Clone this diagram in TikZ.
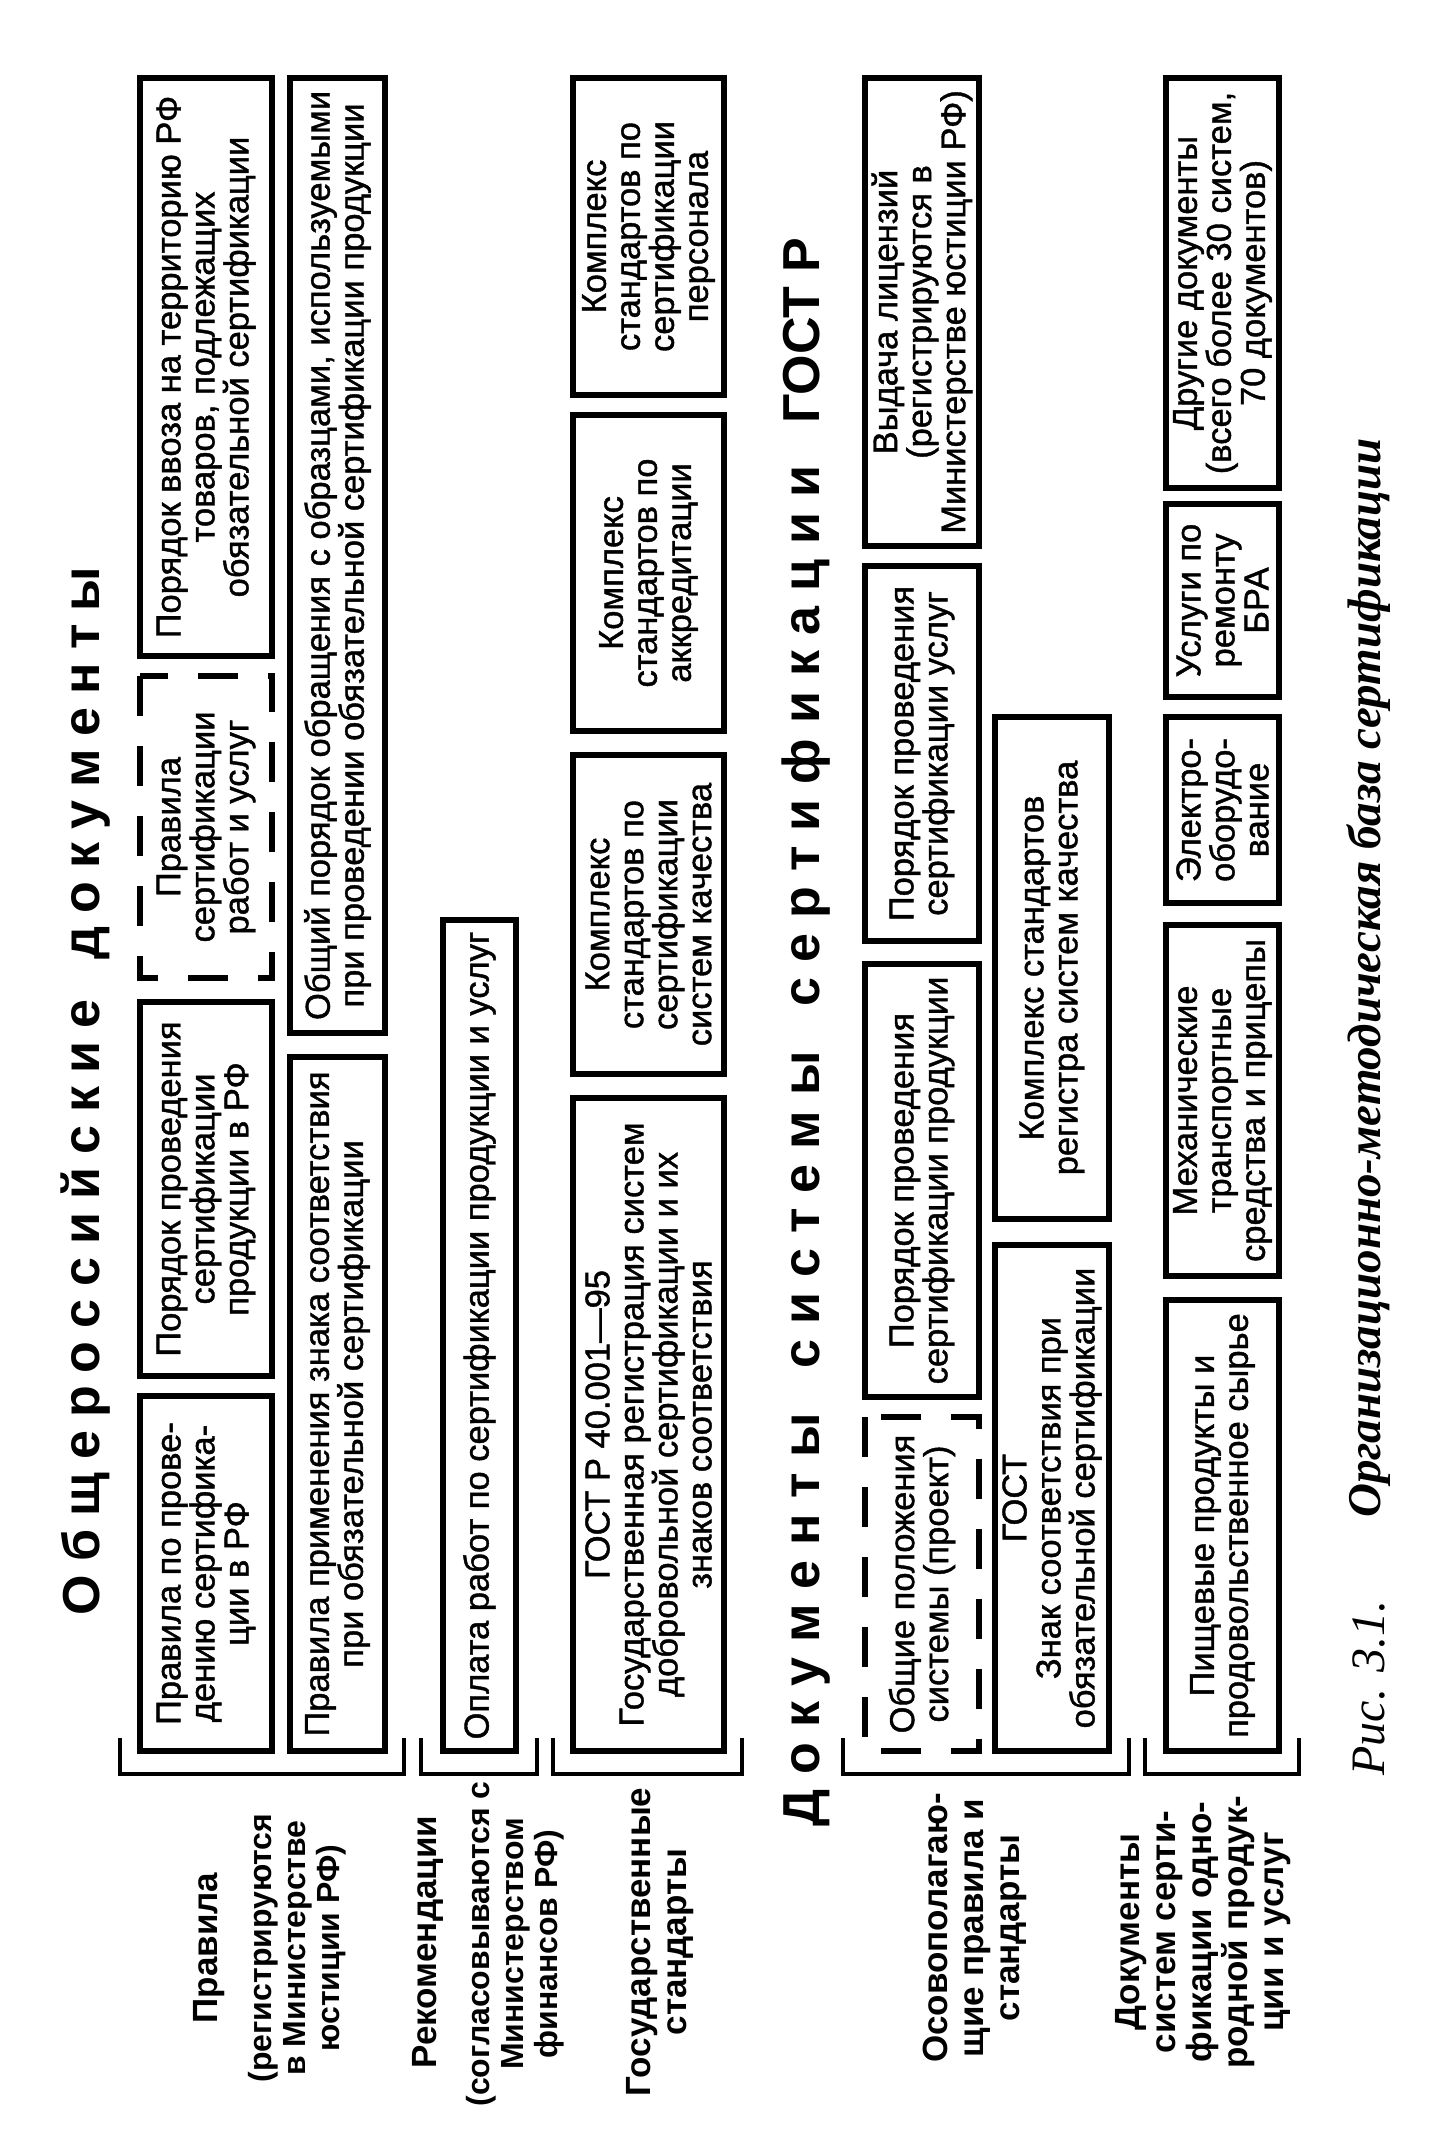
\documentclass[tikz,border=0pt]{standalone}
\usepackage{fontspec}
\setmainfont{Liberation Sans}
\newfontfamily\boxfont[FakeBold=1.2]{Liberation Sans}
\newfontfamily\serif{Liberation Serif}
\def\lsp{0.4em}
\def\spaced#1{\spacedA#1\relax}
\def\spacedA#1{\ifx#1\relax\unkern\else#1\kern\lsp\expandafter\spacedA\fi}
\newcommand\bx[7][box]{\node[#1, minimum width={#6-#5-6}, minimum height={#4-#3-6}] (#2) at ({(#3+#4)/2},{(#5+#6)/2}) {#7};}
\tikzset{
  box/.style={draw, line width=6pt, rotate=90, inner sep=0pt, align=center, font=\boxfont\fontsize{34.5}{34}\selectfont},
  dbox/.style={box, dash pattern=on 40pt off 30pt},
  lab/.style={rotate=90, align=center, inner sep=0pt, font=\bfseries\fontsize{35}{36}\selectfont},
  par/.style={rotate=90, align=center, inner sep=0pt, font=\bfseries\fontsize{32}{34}\selectfont},
  brk/.style={line width=4.5pt},
  ttl/.style={rotate=90, inner sep=0pt, font=\bfseries\fontsize{52}{52}\selectfont},
}
\begin{document}
\begin{tikzpicture}[x=1pt,y=-1pt]
\fill[white] (0,0) rectangle (1450,2152);
\useasboundingbox (0,0) rectangle (1450,2152);

% titles
\node[ttl] (t1) at (86,1091) {\def\lsp{0.25em}\spaced{Общероссийские~документы}};
\node[ttl] (t2) at (806,1032) {\def\lsp{0.29em}\spaced{Документы~системы~сертификации}\hspace{0.8em}ГОСТ~Р};

% row 1
\bx{a1}{137}{275}{75}{659}{Порядок ввоза на территорию РФ\\товаров, подлежащих\\обязательной сертификации}
\bx[dbox]{a2}{137}{275}{673}{981}{Правила\\сертификации\\работ и услуг}
\bx{a3}{137}{275}{999}{1379}{Порядок проведения\\сертификации\\продукции в РФ}
\bx{a4}{137}{275}{1393}{1754}{Правила по прове-\\дению сертифика-\\ции в РФ}
% row 2
\bx{b1}{287}{388}{75}{1036}{Общий порядок обращения с образцами, используемыми\\при проведении обязательной сертификации продукции}
\bx{b2}{287}{388}{1054}{1754}{Правила применения знака соответствия\\при обязательной сертификации}
% row 3
\bx{c1}{440}{519}{917}{1754}{Оплата работ по сертификации продукции и услуг}
% row 4
\bx{d1}{570}{727}{75}{398}{Комплекс\\стандартов по\\сертификации\\персонала}
\bx{d2}{570}{727}{412}{734}{Комплекс\\стандартов по\\аккредитации}
\bx{d3}{570}{727}{752}{1077}{Комплекс\\стандартов по\\сертификации\\систем качества}
\bx{d4}{570}{727}{1095}{1754}{ГОСТ Р 40.001—95\\Государственная регистрация систем\\добровольной сертификации и их\\знаков соответствия}
% row 5
\bx{e1}{862}{982}{75}{549}{Выдача лицензий\\(регистрируются в\\Министерстве юстиции РФ)}
\bx{e2}{862}{982}{563}{944}{Порядок проведения\\сертификации услуг}
\bx{e3}{862}{982}{961}{1400}{Порядок проведения\\сертификации продукции}
\bx[dbox]{e4}{862}{982}{1414}{1754}{Общие положения\\системы (проект)}
% row 6
\bx{f1}{992}{1112}{714}{1222}{Комплекс стандартов\\регистра систем качества}
\bx{f2}{992}{1112}{1242}{1754}{ГОСТ\\Знак соответствия при\\обязательной сертификации}
% row 7
\bx{g1}{1163}{1282}{75}{491}{Другие документы\\(всего более 30 систем,\\70 документов)}
\bx{g2}{1163}{1282}{501}{700}{Услуги по\\ремонту\\БРА}
\bx{g3}{1163}{1282}{714}{906}{Электро-\\оборудо-\\вание}
\bx{g4}{1163}{1282}{922}{1279}{Механические\\транспортные\\средства и прицепы}
\bx{g5}{1163}{1282}{1297}{1754}{Пищевые продукты и\\продовольственное сырье}

% brackets
\draw[brk] (120,1738) -- (120,1774) -- (404,1774) -- (404,1738);
\draw[brk] (421,1738) -- (421,1774) -- (537,1774) -- (537,1738);
\draw[brk] (553,1738) -- (553,1774) -- (742,1774) -- (742,1738);
\draw[brk] (843,1738) -- (843,1774) -- (1129,1774) -- (1129,1738);
\draw[brk] (1145,1738) -- (1145,1774) -- (1299,1774) -- (1299,1738);

% labels
\node[lab] (l1a) at (209,1948) {Правила};
\node[par] (l1b) at (297,1948) {(регистрируются\\в Министерстве\\юстиции РФ)};
\node[lab] (l2a) at (428,1942) {Рекомендации};
\node[par] (l2b) at (515,1944) {(согласовываются с\\Министерством\\финансов РФ)};
\node[lab] (l3) at (660,1942) {Государственные\\стандарты};
\node[lab] (l4) at (975,1928) {Осовополагаю-\\щие правила и\\стандарты};
\node[lab] (l5) at (1203,1932) {Документы\\систем серти-\\фикации одно-\\родной продук-\\ции и услуг};

% caption
\node[rotate=90, inner sep=0pt, font=\serif\itshape\fontsize{48}{48}\selectfont] (cap1) at (1369,1688) {Рис. 3.1.};
\node[rotate=90, inner sep=0pt, font=\serif\bfseries\itshape\fontsize{47}{47}\selectfont] (cap2) at (1369,978) {Организационно-методическая база сертификации};
\end{tikzpicture}
\end{document}
